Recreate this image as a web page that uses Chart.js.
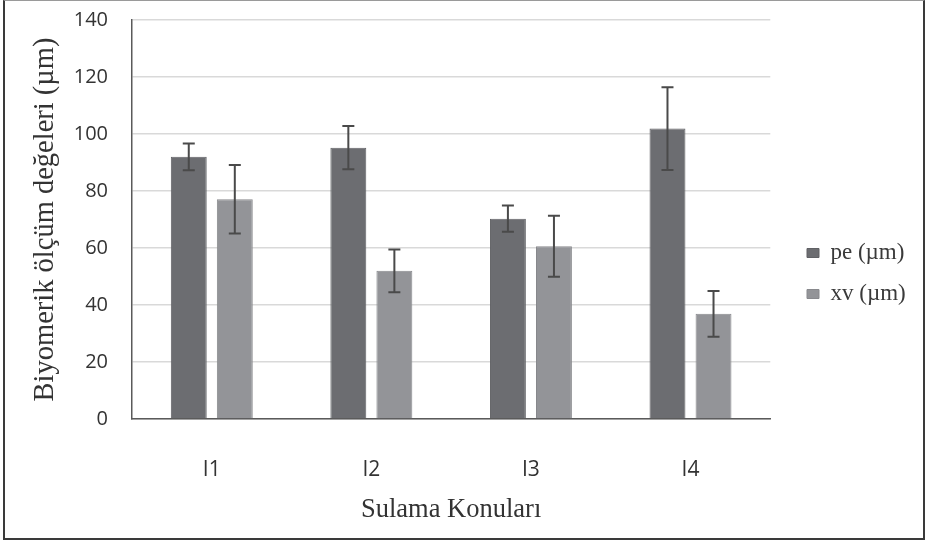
<!DOCTYPE html>
<html>
<head>
<meta charset="utf-8">
<script src="https://cdn.jsdelivr.net/npm/chart.js@4/dist/chart.umd.min.js"></script>
<style>
  html, body { margin: 0; padding: 0; background: #ffffff; }
  #wrap { position: relative; width: 927px; height: 544px; }
  #frame { position: absolute; left: 3px; top: 0px; width: 918px; height: 537px; border: 2px solid #3a3a3a; border-top: 1px solid #9a9a9a; pointer-events: none; }
  canvas { position: absolute; left: 0; top: 0; }
</style>
</head>
<body>
<div id="wrap">
  <canvas id="c" width="927" height="544"></canvas>
  <div id="frame"></div>
</div>
<script>
const categories = ['I1', 'I2', 'I3', 'I4'];
const seriesNames = ['pe (µm)', 'xv (µm)'];
const peValues = [92.0, 95.2, 70.3, 101.9];
const peErrors = [4.7, 7.6, 4.6, 14.5];
const xvValues = [77.1, 52.0, 60.6, 36.9];
const xvErrors = [12.0, 7.5, 10.7, 8.0];
const yTicks = [0, 20, 40, 60, 80, 100, 120, 140];
const yTitle = 'Biyomerik ölçüm değeleri (µm)';
const xTitle = 'Sulama Konuları';

const errorSets = [peErrors, xvErrors];

const errorBarPlugin = {
  id: 'errorBars',
  afterDatasetsDraw(chart) {
    const ctx = chart.ctx;
    const yScale = chart.scales.y;
    ctx.save();
    ctx.strokeStyle = '#4a4a4a';
    ctx.lineWidth = 2;
    chart.data.datasets.forEach((ds, di) => {
      const meta = chart.getDatasetMeta(di);
      meta.data.forEach((bar, i) => {
        const v = ds.data[i];
        const e = errorSets[di][i];
        const x = bar.x;
        const yTop = yScale.getPixelForValue(v + e);
        const yBot = yScale.getPixelForValue(v - e);
        const half = 6;
        ctx.beginPath();
        ctx.moveTo(x, yTop); ctx.lineTo(x, yBot);
        ctx.moveTo(x - half, yTop); ctx.lineTo(x + half, yTop);
        ctx.moveTo(x - half, yBot); ctx.lineTo(x + half, yBot);
        ctx.stroke();
      });
    });
    ctx.restore();
  }
};

const legendPlace = {
  id: 'legendPlace',
  afterLayout(chart) {
    const lg = chart.legend;
    if (!lg) return;
    const pad = lg.options.labels.padding;
    const fs = lg.options.labels.font.size;
    const w = lg.width, h = lg.height;
    lg.left = 807 - pad;
    lg.right = lg.left + w;
    lg.top = 253 - fs / 2 - pad;
    lg.bottom = lg.top + h;
  }
};

new Chart(document.getElementById('c'), {
  type: 'bar',
  data: {
    labels: categories,
    datasets: [
      { label: seriesNames[0], data: peValues, backgroundColor: '#6c6d71', borderColor: '#606165', borderWidth: 1, categoryPercentage: 0.577, barPercentage: 0.78 },
      { label: seriesNames[1], data: xvValues, backgroundColor: '#939498', borderColor: '#88898d', borderWidth: 1, categoryPercentage: 0.577, barPercentage: 0.78 }
    ]
  },
  options: {
    responsive: false,
    animation: false,
    devicePixelRatio: 1,
    layout: { padding: { left: 0, right: 30, top: 20, bottom: 0 } },
    plugins: {
      tooltip: { enabled: false },
      legend: {
        position: 'right',
        align: 'start',
        labels: {
          boxWidth: 12,
          boxHeight: 9,
          padding: 18,
          color: '#3a3a3a',
          font: { family: '"Liberation Serif", "Times New Roman", serif', size: 23 }
        }
      }
    },
    scales: {
      x: {
        grid: { display: false },
        border: { display: true, color: '#5a5a5a', width: 1.5 },
        ticks: { color: '#333333', padding: 30, font: { family: '"Open Sans", sans-serif', size: 21 } },
        title: { display: true, text: xTitle, color: '#333333', padding: { top: 0, bottom: 21 }, font: { family: '"Liberation Serif", "Times New Roman", serif', size: 26.5, lineHeight: 1 } },
        afterFit(scale) { scale.height = 544 - 419; }
      },
      y: {
        min: 0,
        max: 140,
        afterBuildTicks(scale) { scale.ticks = yTicks.map(v => ({ value: v })); },
        grid: { color: '#d9d9d9', lineWidth: 1.5, drawTicks: false },
        border: { display: true, color: '#5a5a5a', width: 1.5 },
        ticks: { color: '#333333', padding: 24, font: { family: '"Open Sans", sans-serif', size: 20 } },
        title: { display: true, text: yTitle, color: '#333333', padding: { top: 31, bottom: 0 }, font: { family: '"Liberation Serif", "Times New Roman", serif', size: 28.5, lineHeight: 1 } },
        afterFit(scale) { scale.width = 132; scale.paddingTop = 0; scale.paddingBottom = 0; }
      }
    }
  },
  plugins: [errorBarPlugin, legendPlace]
});
</script>
</body>
</html>
